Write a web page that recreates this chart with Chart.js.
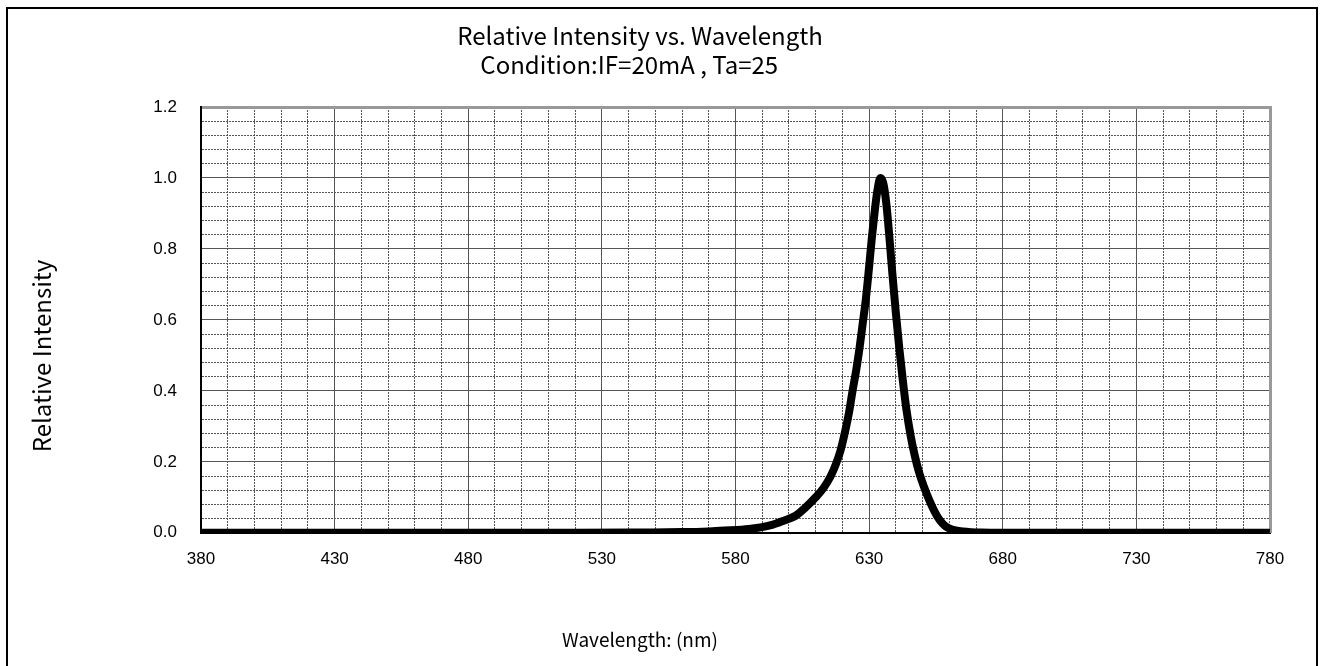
<!DOCTYPE html>
<html lang="en">
<head>
  <meta charset="UTF-8">
  <title>Relative Intensity vs. Wavelength</title>
  <script src="https://cdn.jsdelivr.net/npm/chart.js@4.4.1/dist/chart.umd.min.js"></script>
  <style>
    body { margin: 0; overflow: hidden; background: #fff; }
    #wrap { position: relative; width: 1320px; height: 666px; }
    #frame { position: absolute; left: 6px; top: 7px; width: 1308px; height: 700px;
             border: 2px solid #000; pointer-events: none; }
  </style>
</head>
<body>
<div id="wrap">
  <canvas id="chart"></canvas>
  <div id="frame"></div>
</div>

<script>
// spectrum (nm -> relative intensity)
const wavelengths = [380, 450, 520, 545, 560, 570, 578, 585, 590, 594, 598, 602.5, 606, 610,
  613, 615.5, 617.5, 619.3, 621, 622.5, 623.8, 625.2, 626.4, 627.6, 628.8, 630, 631, 632, 633, 634.2,
  635.3, 636.4, 637.5, 638.7, 640, 641.3, 642.6, 644, 645.5, 647, 648.7, 650.5, 652.5, 654.5,
  656.5, 658.5, 661, 665, 672, 690, 780];
const intensity = [0, 0, 0, 0.001, 0.002, 0.004, 0.007, 0.011, 0.016, 0.023, 0.034, 0.048, 0.07, 0.1,
  0.127, 0.158, 0.192, 0.232, 0.285, 0.34, 0.4, 0.46, 0.52, 0.59, 0.66, 0.75, 0.83, 0.9, 0.96, 1.0,
  0.985, 0.93, 0.84, 0.73, 0.62, 0.52, 0.43, 0.345, 0.275, 0.22, 0.17, 0.13, 0.092, 0.06,
  0.035, 0.019, 0.009, 0.004, 0.001, 0, 0];

const titleLines = ['Relative Intensity vs. Wavelength', 'Condition:IF=20mA , Ta=25    '];
const xTitle = 'Wavelength: (nm)';
const yTitle = 'Relative Intensity';
const xMin = 380, xMax = 780, xMinor = 10, xMajor = 50;
const yMin = 0, yMax = 1.2, yMinor = 0.04, yMajor = 0.2;

const points = wavelengths.map((w, i) => ({x: w, y: intensity[i]}));

const isMajorX = v => Math.abs(((v - xMin) / xMajor) - Math.round((v - xMin) / xMajor)) < 1e-6;
const isMajorY = v => Math.abs((v / yMajor) - Math.round(v / yMajor)) < 1e-6;

const tickFont = {family: 'Liberation Sans', size: 17};
const textFont = 'Noto Sans CJK JP';

// y axis title sits a bit below the plot centre in the original, so draw it by hand
const yTitlePlugin = {
  id: 'yTitle',
  afterDraw(chart) {
    const c = chart.ctx;
    c.save();
    c.translate(42, 356);
    c.rotate(-Math.PI / 2);
    c.font = '24px "' + textFont + '"';
    c.fillStyle = '#000';
    c.textAlign = 'center';
    c.textBaseline = 'middle';
    c.fillText(yTitle, 0, 0);
    c.restore();
  }
};

const ctx = document.getElementById('chart').getContext('2d');
new Chart(ctx, {
  type: 'line',
  data: {
    datasets: [{
      data: points,
      borderColor: '#000',
      borderWidth: 8,
      pointRadius: 0,
      cubicInterpolationMode: 'monotone',
      fill: false
    }]
  },
  plugins: [yTitlePlugin],
  options: {
    responsive: true,
    maintainAspectRatio: false,
    animation: false,
    layout: {padding: {left: 10, right: 50, top: 0, bottom: 10}},
    plugins: {
      legend: {display: false},
      tooltip: {enabled: false},
      title: {
        display: true,
        text: titleLines,
        color: '#000',
        font: {family: textFont, size: 24, weight: 'normal', lineHeight: 29 / 24},
        padding: {top: 21, bottom: 28}
      },
      subtitle: {
        display: true,
        position: 'bottom',
        text: xTitle,
        color: '#000',
        font: {family: textFont, size: 19, weight: 'normal', lineHeight: 1.2},
        padding: {top: 0, bottom: 5}
      }
    },
    scales: {
      x: {
        type: 'linear',
        position: 'bottom',
        min: xMin, max: xMax,
        afterFit: s => { s.height = 95.4; },
        ticks: {
          stepSize: xMinor, autoSkip: false, maxRotation: 0, padding: 16,
          color: '#000', font: tickFont,
          callback: v => isMajorX(v) ? String(v) : ''
        },
        grid: {
          drawTicks: false,
          lineWidth: 1,
          color: c => isMajorX(c.tick.value) ? 'rgba(0,0,0,0)' : '#555'
        },
        border: {display: true, color: '#000', width: 2, dash: [2, 1]}
      },
      x2: {
        type: 'linear',
        position: 'top',
        min: xMin, max: xMax,
        afterFit: s => { s.height = 0; },
        ticks: {stepSize: xMajor, display: false},
        grid: {drawTicks: false, color: '#555', lineWidth: 1},
        border: {display: true, color: '#999', width: 3}
      },
      y: {
        type: 'linear',
        position: 'left',
        min: yMin, max: yMax,
        afterFit: s => { s.width = 191; },
        ticks: {
          stepSize: yMinor, autoSkip: false, padding: 24,
          color: '#000', font: tickFont,
          callback: v => isMajorY(v) ? v.toFixed(1) : ''
        },
        grid: {
          drawTicks: false,
          lineWidth: 1,
          color: c => isMajorY(c.tick.value) ? 'rgba(0,0,0,0)' : '#555'
        },
        border: {display: true, color: '#000', width: 2, dash: [2, 1]}
      },
      y2: {
        type: 'linear',
        position: 'right',
        min: yMin, max: yMax,
        afterFit: s => { s.width = 0; },
        ticks: {stepSize: yMajor, display: false},
        grid: {drawTicks: false, color: '#555', lineWidth: 1},
        border: {display: true, color: '#999', width: 3}
      }
    }
  }
});
</script>
</body>
</html>
